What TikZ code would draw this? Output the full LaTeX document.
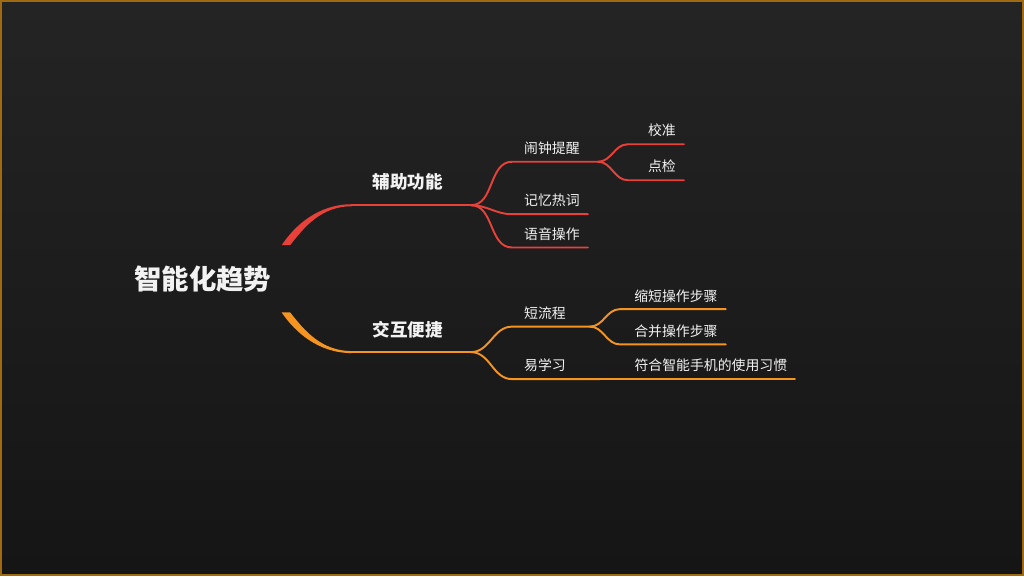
\documentclass[tikz,border=0pt]{standalone}
\usepackage{fontspec}
\setmainfont{Noto Sans CJK SC}
\usepackage{xcolor}
\usepackage{tikz}
\usetikzlibrary{arrows.meta,positioning,calc}
\definecolor{slidetop}{HTML}{242424}
\definecolor{slidebottom}{HTML}{151515}
\definecolor{slideframe}{HTML}{A06A12}
\definecolor{assistred}{HTML}{E8413A}
\definecolor{easyorange}{HTML}{F5941F}
\definecolor{labelwhite}{HTML}{F2F2F2}
\tikzset{
  trend root/.style={
    inner sep=0pt,
    text=labelwhite,
    font=\fontsize{15.6}{18}\selectfont\bfseries
  }
}
\tikzset{
  branch label/.style={
    inner sep=0pt,
    text=labelwhite,
    font=\fontsize{10}{12}\selectfont\bfseries
  }
}
\tikzset{
  leaf label/.style={
    inner sep=0pt,
    text=labelwhite,
    font=\fontsize{7.9}{10}\selectfont
  }
}
\tikzset{
  red link/.style={
    draw=assistred,
    line width=1.1pt,
    line cap=round
  }
}
\tikzset{
  orange link/.style={
    draw=easyorange,
    line width=1.1pt,
    line cap=round
  }
}
\begin{document}
\begin{tikzpicture}[x=0.02cm,y=-0.02cm]

    % ------------------------------------------------------------
    % Slide
    % ------------------------------------------------------------

    \shade[top color=slidetop,bottom color=slidebottom]
      (0,0) rectangle (1024,576);
    \draw[slideframe,line width=1.1pt] (0.6,0.6) rectangle (1023.4,575.4);
    \useasboundingbox (0,0) rectangle (1024,576);

    % ------------------------------------------------------------
    % Nodes
    % ------------------------------------------------------------

    \node[trend root] (root) at (202.5,279) {智能化趋势};

    \node[branch label] (assist) at (407.5,182) {辅助功能};
    \node[branch label] (easy) at (407.5,330) {交互便捷};

    \node[leaf label] (alarm) at (552,148) {闹钟提醒};
    \node[leaf label] (memory) at (552,200) {记忆热词};
    \node[leaf label] (voice) at (552,234) {语音操作};
    \node[leaf label] (calib) at (662,130) {校准};
    \node[leaf label] (check) at (662,166) {点检};

    \node[leaf label] (short) at (545,313) {短流程};
    \node[leaf label] (learn) at (545,365) {易学习};
    \node[leaf label] (shrink) at (676,296) {缩短操作步骤};
    \node[leaf label] (merge) at (676,331.5) {合并操作步骤};
    \node[leaf label] (habit) at (711,365) {符合智能手机的使用习惯};

    % line ends
    \coordinate (assistS) at (352,205);
    \coordinate (assistE) at (471,205);
    \coordinate (easyS) at (352,352);
    \coordinate (easyE) at (471,352);

    \coordinate (alarmS) at (512,161.5);
    \coordinate (alarmE) at (598,161.5);
    \coordinate (memoryS) at (512,214);
    \coordinate (memoryE) at (588,214);
    \coordinate (voiceS) at (512,247.3);
    \coordinate (voiceE) at (588,247.3);
    \coordinate (calibS) at (628,144);
    \coordinate (calibE) at (684,144);
    \coordinate (checkS) at (628,180);
    \coordinate (checkE) at (684,180);

    \coordinate (shortS) at (512,326.5);
    \coordinate (shortE) at (590,326.5);
    \coordinate (learnS) at (512,379);
    \coordinate (learnE) at (600,379);
    \coordinate (shrinkS) at (620,309);
    \coordinate (shrinkE) at (726,309);
    \coordinate (mergeS) at (620,344.3);
    \coordinate (mergeE) at (726,344.3);
    \coordinate (habitE) at (795,379);

    % ------------------------------------------------------------
    % Edges
    % ------------------------------------------------------------

    % tapered roots of the two branches
    \fill[assistred]
      (281.5,245) .. controls (295,225) and (318,204) .. (352,204)
      -- (352,206)
      .. controls (321,206) and (304,227) .. (290,245) -- cycle;
    \fill[easyorange]
      (281.5,312.3) .. controls (295,332) and (318,353) .. (352,353)
      -- (352,351)
      .. controls (321,351) and (304,330) .. (290,312.3) -- cycle;

    \draw[red link] (assistS) -- (assistE);
    \draw[orange link] (easyS) -- (easyE);

    \draw[red link] (assistE) to[out=0,in=180] (alarmS) -- (alarmE);
    \draw[red link] (assistE) to[out=0,in=180] (memoryS) -- (memoryE);
    \draw[red link] (assistE) to[out=0,in=180] (voiceS) -- (voiceE);
    \draw[red link] (alarmE) to[out=0,in=180] (calibS) -- (calibE);
    \draw[red link] (alarmE) to[out=0,in=180] (checkS) -- (checkE);

    \draw[orange link] (easyE) to[out=0,in=180] (shortS) -- (shortE);
    \draw[orange link] (easyE) to[out=0,in=180] (learnS) -- (learnE);
    \draw[orange link] (shortE) to[out=0,in=180] (shrinkS) -- (shrinkE);
    \draw[orange link] (shortE) to[out=0,in=180] (mergeS) -- (mergeE);
    \draw[orange link] (learnE) -- (habitE);

    \end{tikzpicture}
\end{document}
